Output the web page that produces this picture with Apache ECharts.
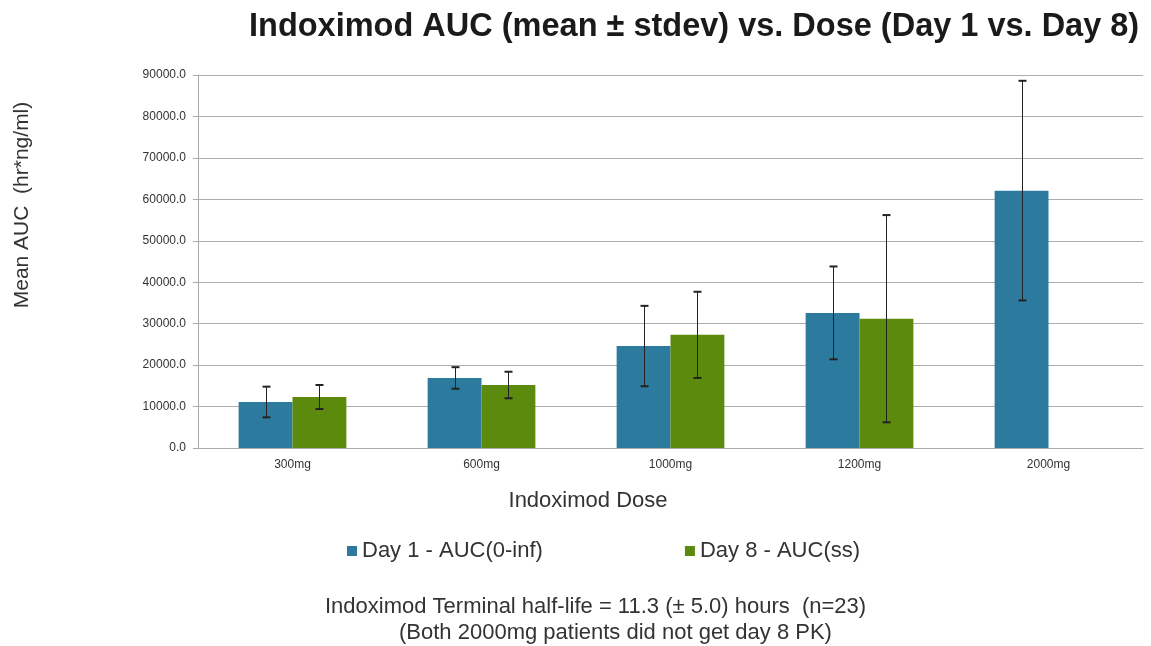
<!DOCTYPE html>
<html>
<head>
<meta charset="utf-8">
<script src="https://cdn.jsdelivr.net/npm/echarts@6/dist/echarts.min.js"></script>
<style>
  html, body { margin: 0; padding: 0; background: #fff; }
  #chart { width: 1151px; height: 646px; }
</style>
</head>
<body>
<div id="chart"></div>
<script>
const categories = ['300mg', '600mg', '1000mg', '1200mg', '2000mg'];
const day1Mean = [11100, 16900, 24600, 32600, 62100];
const day1Sd   = [3700, 2600, 9700, 11200, 26500];
const day8Mean = [12300, 15200, 27300, 31200, null];
const day8Sd   = [2900, 3200, 10400, 25000, null];
const seriesNames = ['Day 1 - AUC(0-inf)', 'Day 8 - AUC(ss)'];
const yTicks = { min: 0, max: 90000, interval: 10000 };
const footnotes = [
  'Indoximod Terminal half-life = 11.3 (± 5.0) hours  (n=23)',
  '(Both 2000mg patients did not get day 8 PK)'
];

const BLUE = '#2c7b9e';
const GREEN = '#5c8a0c';
const CAT_GAP = 0.43;
const FONT = 'Liberation Sans';

function errorData(means, sds) {
  return means.map((m, i) => m == null ? null : [i, m - sds[i], m + sds[i]]).filter(d => d);
}

function makeErrorSeries(means, sds, side) {
  return {
    type: 'custom',
    silent: true,
    z: 10,
    data: errorData(means, sds),
    encode: { x: 0, y: [1, 2] },
    renderItem: function (params, api) {
      const idx = api.value(0);
      const low = api.coord([idx, api.value(1)]);
      const high = api.coord([idx, api.value(2)]);
      const band = api.size([1, 0])[0];
      const barW = band * (1 - CAT_GAP) / 2;
      const x = Math.round(low[0] + side * barW / 2) + 0.5;
      const cap = 4;
      return {
        type: 'group',
        children: [
          { type: 'line', shape: { x1: x, y1: high[1], x2: x, y2: low[1] }, style: { stroke: '#222', lineWidth: 1 } },
          { type: 'line', shape: { x1: x - cap, y1: high[1], x2: x + cap, y2: high[1] }, style: { stroke: '#222', lineWidth: 2 } },
          { type: 'line', shape: { x1: x - cap, y1: low[1], x2: x + cap, y2: low[1] }, style: { stroke: '#222', lineWidth: 2 } }
        ]
      };
    }
  };
}

const chart = echarts.init(document.getElementById('chart'), null, { renderer: 'canvas' });
chart.setOption({
  animation: false,
  backgroundColor: '#ffffff',
  title: {
    text: 'Indoximod AUC (mean ± stdev) vs. Dose (Day 1 vs. Day 8)',
    left: 244,
    top: 6,
    textStyle: { fontFamily: FONT, fontWeight: 'bold', fontSize: 32.5, color: '#1a1a1a' }
  },
  legend: {
    data: seriesNames,
    left: 342,
    top: 535,
    itemWidth: 10,
    itemHeight: 10,
    itemGap: 142,
    icon: 'rect',
    textStyle: { fontFamily: FONT, fontSize: 22, color: '#333' }
  },
  grid: { left: 198, right: 8, top: 75, bottom: 198 },
  xAxis: {
    type: 'category',
    data: categories,
    axisLine: { lineStyle: { color: '#aaa' } },
    axisTick: { show: false },
    axisLabel: { fontFamily: FONT, fontSize: 12, color: '#333', margin: 11 }
  },
  yAxis: {
    type: 'value',
    min: yTicks.min,
    max: yTicks.max,
    interval: yTicks.interval,
    axisLine: { show: true, lineStyle: { color: '#aaa' } },
    axisTick: { show: true, length: 5, lineStyle: { color: '#aaa' } },
    axisLabel: {
      fontFamily: FONT, fontSize: 12, color: '#333', margin: 12,
      formatter: v => v.toFixed(1)
    },
    splitLine: { lineStyle: { color: '#adadad', width: 1.2 } }
  },
  series: [
    {
      name: seriesNames[0], type: 'bar', data: day1Mean,
      itemStyle: { color: BLUE }, barGap: '0%', barCategoryGap: (CAT_GAP * 100) + '%'
    },
    {
      name: seriesNames[1], type: 'bar', data: day8Mean,
      itemStyle: { color: GREEN }, barGap: '0%', barCategoryGap: (CAT_GAP * 100) + '%'
    },
    makeErrorSeries(day1Mean, day1Sd, -1),
    makeErrorSeries(day8Mean, day8Sd, 1)
  ],
  graphic: [
    {
      type: 'text', x: 22, y: 205, rotation: Math.PI / 2, z: 100,
      style: { text: 'Mean AUC  (hr*ng/ml)', fontFamily: FONT, fontSize: 21, fill: '#333', align: 'center', verticalAlign: 'middle' }
    },
    {
      type: 'text', x: 588, y: 501, z: 100,
      style: { text: 'Indoximod Dose', fontFamily: FONT, fontSize: 22, fill: '#333', align: 'center', verticalAlign: 'middle' }
    },
    {
      type: 'text', x: 325, y: 607, z: 100,
      style: { text: footnotes[0], fontFamily: FONT, fontSize: 22, fill: '#333', align: 'left', verticalAlign: 'middle' }
    },
    {
      type: 'text', x: 399, y: 633, z: 100,
      style: { text: footnotes[1], fontFamily: FONT, fontSize: 22, fill: '#333', align: 'left', verticalAlign: 'middle' }
    }
  ]
});
</script>
</body>
</html>
